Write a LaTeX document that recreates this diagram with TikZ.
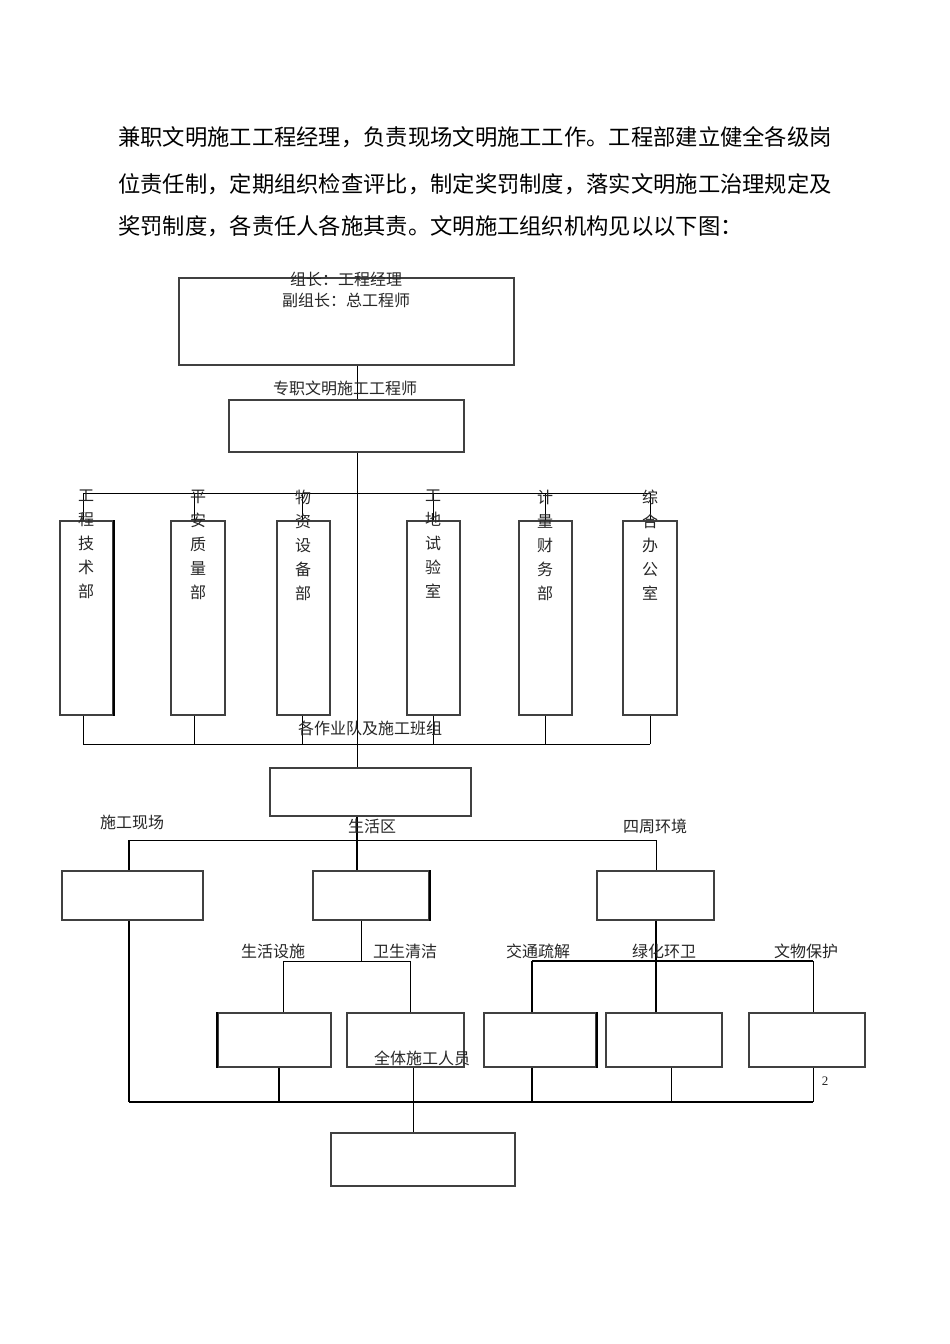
\documentclass[tikz,border=0pt]{standalone}
\usepackage{fontspec}
\setmainfont{Noto Sans CJK SC}
\newfontfamily\numfont{Liberation Serif}
\begin{document}
\begin{tikzpicture}[x=1pt,y=-1pt,
  box/.style={draw=black!75,line width=1.2pt,inner sep=0pt,rectangle},
  conn/.style={draw=black,line width=0.9pt},
  thick conn/.style={draw=black,line width=2pt},
  lbl/.style={inner sep=0pt,font=\fontsize{16}{16}\selectfont,text=black!85},
  para/.style={inner sep=0pt,anchor=west,font=\fontsize{22.3}{22.3}\selectfont},
  vlbl/.style={inner sep=0pt,anchor=north,align=center,font=\fontsize{16}{24}\selectfont,text=black!85}]
\useasboundingbox (0,0) rectangle (950,1344);
% paragraph
\node[para] (p1) at (118,137) {兼职文明施工工程经理，负责现场文明施工工作。工程部建立健全各级岗};
\node[para] (p2) at (118,184) {位责任制，定期组织检查评比，制定奖罚制度，落实文明施工治理规定及};
\node[para] (p3) at (118,226) {奖罚制度，各责任人各施其责。文明施工组织机构见以以下图：};
% spine coordinates
\coordinate (spine) at (357,0);
\coordinate (bus1) at (0,493);
\coordinate (bus2) at (0,744);
\coordinate (bus3) at (0,840);
\coordinate (bus4) at (0,961);
\coordinate (bus5) at (0,1102);
% boxes
\node[box,minimum width=335,minimum height=87] (b1) at (346.5,321.5) {};
\node[box,minimum width=235,minimum height=52] (b2) at (346.5,426) {};
\node[box,minimum width=53,minimum height=194] (d1) at (86.5,618) {};
\node[box,minimum width=54,minimum height=194] (d2) at (198,618) {};
\node[box,minimum width=53,minimum height=194] (d3) at (303.5,618) {};
\node[box,minimum width=53,minimum height=194] (d4) at (433.5,618) {};
\node[box,minimum width=53,minimum height=194] (d5) at (545.5,618) {};
\node[box,minimum width=54,minimum height=194] (d6) at (650,618) {};
\node[box,minimum width=201,minimum height=48] (b3) at (370.5,792) {};
\node[box,minimum width=141,minimum height=49] (bA) at (132.5,895.5) {};
\node[box,minimum width=116,minimum height=49] (bB) at (371,895.5) {};
\node[box,minimum width=117,minimum height=49] (bC) at (655.5,895.5) {};
\node[box,minimum width=113,minimum height=54] (bD) at (274.5,1040) {};
\node[box,minimum width=117,minimum height=54] (bE) at (405.5,1040) {};
\node[box,minimum width=112,minimum height=54] (bF) at (540,1040) {};
\node[box,minimum width=116,minimum height=54] (bG) at (664,1040) {};
\node[box,minimum width=116,minimum height=54] (bH) at (807,1040) {};
\node[box,minimum width=184,minimum height=53] (bI) at (423,1159.5) {};
% connectors top
\draw[conn] (b1.south -| spine) -- (b2.north -| spine);
\draw[conn] (b2.south -| spine) -- (b3.north -| spine);
\draw[conn] (83,0 |- bus1) -- (650,0 |- bus1);
\draw[conn] (d1.north -| 83,0) -- (bus1 -| 83,0);
\draw[conn] (d2.north -| 194,0) -- (bus1 -| 194,0);
\draw[conn] (d3.north -| 302,0) -- (bus1 -| 302,0);
\draw[conn] (d4.north -| 433,0) -- (bus1 -| 433,0);
\draw[conn] (d5.north -| 545,0) -- (bus1 -| 545,0);
\draw[conn] (d6.north -| 650,0) -- (bus1 -| 650,0);
\draw[conn] (83,0 |- bus2) -- (650,0 |- bus2);
\draw[conn] (d1.south -| 83,0) -- (bus2 -| 83,0);
\draw[conn] (d2.south -| 194,0) -- (bus2 -| 194,0);
\draw[conn] (d3.south -| 302,0) -- (bus2 -| 302,0);
\draw[conn] (d4.south -| 433,0) -- (bus2 -| 433,0);
\draw[conn] (d5.south -| 545,0) -- (bus2 -| 545,0);
\draw[conn] (d6.south -| 650,0) -- (bus2 -| 650,0);
% middle
\draw[conn] (129,0 |- bus3) -- (656,0 |- bus3);
\draw[thick conn,line width=1.6pt] (bus3 -| 129,0) -- (bA.north -| 129,0);
\draw[conn,line width=1.4pt] (b3.south -| spine) -- (bB.north -| spine);
\draw[conn] (bus3 -| 656,0) -- (bC.north -| 656,0);
% lower left
\draw[thick conn] (bA.south -| 129,0) -- (bus5 -| 129,0);
\draw[conn] (bB.south -| 361,0) -- (bus4 -| 361,0);
\draw[conn] (283,0 |- bus4) -- (410,0 |- bus4);
\draw[conn] (bus4 -| 283,0) -- (bD.north -| 283,0);
\draw[conn] (bus4 -| 410,0) -- (bE.north -| 410,0);
% lower right
\draw[thick conn] (bC.south -| 656,0) -- (bG.north -| 656,0);
\draw[conn,line width=1.4pt] (532,0 |- bus4) -- (813,0 |- bus4);
\draw[thick conn] (bus4 -| 532,0) -- (bF.north -| 532,0);
\draw[conn] (bus4 -| 813,0) -- (bH.north -| 813,0);
% bottom bus
\draw[conn,line width=1.3pt] (129,0 |- bus5) -- (813,0 |- bus5);
\draw[thick conn] (bD.south -| 279,0) -- (bus5 -| 279,0);
\draw[thick conn] (bF.south -| 532,0) -- (bus5 -| 532,0);
\draw[conn] (bG.south -| 671,0) -- (bus5 -| 671,0);
\draw[conn] (bH.south -| 813,0) -- (bus5 -| 813,0);
\draw[conn] (bE.south -| 413,0) -- (bI.north -| 413,0);
% thick box edges
\draw[thick conn] (d1.north east) -- (d1.south east);
\draw[thick conn] (bB.north east) -- (bB.south east);
\draw[thick conn] (bD.north west) -- (bD.south west);
\draw[thick conn] (bF.north east) -- (bF.south east);
% labels
\node[lbl] (t1) at (346,279) {组长：工程经理};
\node[lbl] (t2) at (346,300) {副组长：总工程师};
\node[lbl] (t3) at (345,388) {专职文明施工工程师};
\node[vlbl] (v1) at (86,490) {工\\程\\技\\术\\部};
\node[vlbl] (v2) at (198,490) {平\\安\\质\\量\\部};
\node[vlbl] (v3) at (303,490) {物\\资\\设\\备\\部};
\node[vlbl] (v4) at (433,490) {工\\地\\试\\验\\室};
\node[vlbl] (v5) at (545,490) {计\\量\\财\\务\\部};
\node[vlbl] (v6) at (650,490) {综\\合\\办\\公\\室};
\node[lbl] (t4) at (370,728) {各作业队及施工班组};
\node[lbl] (t5) at (132,822) {施工现场};
\node[lbl] (t6) at (372,826) {生活区};
\node[lbl] (t7) at (655,826) {四周环境};
\node[lbl] (t8) at (273,951) {生活设施};
\node[lbl] (t9) at (405,951) {卫生清洁};
\node[lbl] (t10) at (538,951) {交通疏解};
\node[lbl] (t11) at (664,951) {绿化环卫};
\node[lbl] (t12) at (806,951) {文物保护};
\node[lbl] (t13) at (422,1058) {全体施工人员};
\node[lbl,font=\numfont\fontsize{13}{13}\selectfont] (pg) at (825,1081) {2};
\end{tikzpicture}
\end{document}
